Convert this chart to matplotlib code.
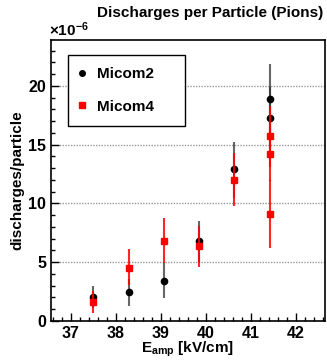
import matplotlib
matplotlib.use("Agg")
import matplotlib.pyplot as plt
from matplotlib.ticker import MultipleLocator
from matplotlib.lines import Line2D

plt.rcParams['font.family'] = ['Liberation Sans', 'DejaVu Sans']
plt.rcParams['font.weight'] = 'bold'
plt.rcParams['mathtext.fontset'] = 'custom'
plt.rcParams['mathtext.rm'] = 'Liberation Sans:bold'
plt.rcParams['mathtext.bf'] = 'Liberation Sans:bold'
plt.rcParams['mathtext.it'] = 'Liberation Sans:bold'

# Data (units of 1e-6)
micom2_x = [37.5, 38.3, 39.07, 39.85, 40.63, 41.42, 41.42]
micom2_y = [2.05, 2.5, 3.4, 6.8, 12.9, 18.9, 17.3]
micom2_lo = [0.95, 1.2, 1.45, 1.8, 2.4, 3.0, 2.6]
micom2_hi = [0.95, 1.1, 1.5, 1.7, 2.3, 3.0, 2.6]

micom4_x = [37.5, 38.3, 39.07, 39.85, 40.63, 41.42, 41.42, 41.42]
micom4_y = [1.6, 4.55, 6.8, 6.4, 12.0, 15.7, 14.2, 9.1]
micom4_lo = [0.95, 1.5, 1.9, 1.8, 2.2, 2.6, 2.3, 2.9]
micom4_hi = [0.95, 1.55, 2.0, 1.7, 2.3, 2.6, 2.3, 2.9]

series_names = ['Micom2', 'Micom4']
title = "Discharges per Particle (Pions)"

fig = plt.figure(figsize=(3.27, 3.6), dpi=100)
W, H = 327, 360
ax = fig.add_axes([51 / W, (H - 321) / H, (325 - 51) / W, (321 - 40) / H])

ax.set_xlim(36.56, 42.65)
ax.set_ylim(0, 23.9)

ax.grid(axis='y', linestyle=(0, (1, 1)), color='#999999', linewidth=1.0)
ax.set_axisbelow(True)

ax.errorbar(micom2_x, micom2_y, yerr=[micom2_lo, micom2_hi], fmt='o', color='black',
            ecolor=(0.2, 0.2, 0.2, 0.75), elinewidth=1.5, markersize=4.5, capsize=0,
            zorder=3)
ax.errorbar(micom4_x, micom4_y, yerr=[micom4_lo, micom4_hi], fmt='s', color='red',
            ecolor=(1, 0, 0, 0.85), elinewidth=1.5, markersize=5, capsize=0,
            zorder=4)

ax.xaxis.set_major_locator(MultipleLocator(1))
ax.xaxis.set_minor_locator(MultipleLocator(0.2))
ax.yaxis.set_major_locator(MultipleLocator(5))
ax.yaxis.set_minor_locator(MultipleLocator(1))
ax.tick_params(which='both', direction='in', top=False, right=False)
ax.tick_params(which='major', length=6, width=1, labelsize=11.5)
ax.tick_params(which='minor', length=3, width=1)
for lab in ax.get_xticklabels() + ax.get_yticklabels():
    lab.set_fontweight('bold')
for s in ax.spines.values():
    s.set_linewidth(1.2)

ax.set_xlabel(r'E$_{\mathrm{amp}}$ [kV/cm]', fontsize=11, fontweight='bold', labelpad=-1)
ax.set_ylabel('discharges/particle', fontsize=11, fontweight='bold', labelpad=3)

handles = [Line2D([], [], marker='o', color='black', linestyle='none', markersize=4),
           Line2D([], [], marker='s', color='red', linestyle='none', markersize=4.5)]
x0 = (68 - 51) / 274
x1 = (185 - 51) / 274
y1 = (321 - 55) / 281
y0 = (321 - 121) / 281
leg = ax.legend(handles, series_names, loc='upper left',
                bbox_to_anchor=(x0, y0, x1 - x0, y1 - y0), mode='expand',
                frameon=True, fancybox=False, edgecolor='black', framealpha=1,
                prop={'weight': 'bold', 'size': 11}, handletextpad=0.9,
                borderpad=0.8, labelspacing=1.2, handlelength=0.2, borderaxespad=0)
leg.get_frame().set_linewidth(1.0)

fig.text(323 / W, 1 - 13 / H, title, ha='right', va='center', fontsize=11, fontweight='bold')
fig.text(49 / W, 1 - 30 / H, r'$\times$10$^{-6}$', ha='left', va='center', fontsize=11)

fig.savefig('out.png', dpi=100)
